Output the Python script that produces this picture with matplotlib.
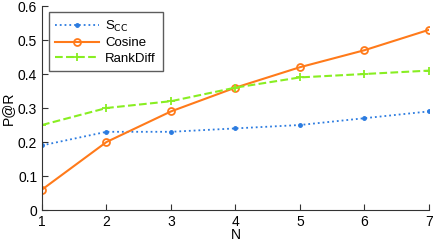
import matplotlib
matplotlib.use("Agg")
import matplotlib.pyplot as plt

N = [1, 2, 3, 4, 5, 6, 7]
scc = [0.19, 0.23, 0.23, 0.24, 0.25, 0.27, 0.29]
cosine = [0.06, 0.20, 0.29, 0.36, 0.42, 0.47, 0.53]
rankdiff = [0.25, 0.30, 0.32, 0.36, 0.39, 0.40, 0.41]
yticks = [0, 0.1, 0.2, 0.3, 0.4, 0.5, 0.6]
ytick_labels = ["0", "0.1", "0.2", "0.3", "0.4", "0.5", "0.6"]

plt.rcParams['font.family'] = ['Liberation Sans', 'DejaVu Sans']
fig = plt.figure(figsize=(4.39, 2.42), dpi=100)
ax = fig.add_axes([42/439, 32/242, (429-42)/439, (210-6)/242])

ax.plot(N, scc, linestyle=':', color='#2b7be0', marker='.', markersize=5, linewidth=1.3, label=r'S$_{\mathrm{CC}}$')
ax.plot(N, cosine, linestyle='-', color='#ff7a1a', marker='o', markersize=5, markerfacecolor='none', markeredgewidth=1.3, linewidth=1.5, label='Cosine')
ax.plot(N, rankdiff, linestyle='--', color='#88ee22', marker='+', markersize=6, markeredgewidth=1.3, linewidth=1.5, label='RankDiff')

ax.set_xlim(1, 7)
ax.set_ylim(0, 0.6)
ax.set_xticks(N)
ax.set_yticks(yticks)
ax.set_yticklabels(ytick_labels)
ax.tick_params(direction='in', labelsize=10, length=4, color='#333333', pad=3.5)
for s in ['top', 'right']:
    ax.spines[s].set_visible(False)
for s in ['left', 'bottom']:
    ax.spines[s].set_color('#333333')
ax.set_xlabel('N', fontsize=10, labelpad=-0.3)
ax.set_ylabel('P@R', fontsize=10, labelpad=2)

leg = ax.legend(loc='upper left', bbox_to_anchor=(0.017, 0.97), fontsize=9.5, frameon=True, fancybox=False,
                edgecolor='#333333', handlelength=3.3, handletextpad=0.5, borderpad=0.5, labelspacing=0.25,
                borderaxespad=0)
leg.get_frame().set_linewidth(1.0)

fig.savefig('out.png', dpi=100)
